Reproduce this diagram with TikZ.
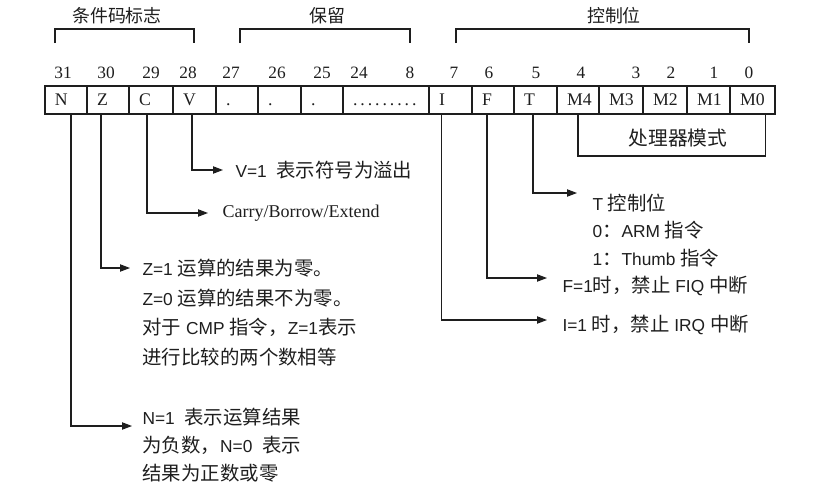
\documentclass[tikz,border=0pt]{standalone}
\usepackage{fontspec}
\setmainfont{Liberation Sans}
\newfontfamily\serifrm{Liberation Serif}
\newfontfamily\cjk[Scale=1.12]{Noto Sans CJK SC}
\newcommand\zh[1]{{\cjk #1}}
\newcommand\regdot{.}
\newcommand\regdots{.\,.\,.\,.\,.\,.\,.\,.\,.}
\newcommand\wgap{\hspace{0.55em}}
\usetikzlibrary{arrows.meta}
\definecolor{ink}{HTML}{1E1E1E}
\begin{document}
\begin{tikzpicture}[x=0.75pt,y=-0.75pt,
  line width=0.8pt, color=ink,
  cell/.style={draw, minimum height=21pt, inner sep=0pt, outer sep=0pt,
    font=\serifrm\fontsize{13.3}{15}\selectfont},
  bitno/.style={font=\serifrm\fontsize{13}{15}\selectfont, anchor=base, inner sep=0pt},
  group/.style={font=\cjk\fontsize{12}{15}\selectfont, inner sep=0pt},
  note/.style={anchor=west, inner sep=0pt, align=left, font=\fontsize{13}{15}\selectfont},
  conn/.style={-{Triangle[length=7.5pt,width=5.5pt]}},
]
\useasboundingbox (0,0) rectangle (818,486);

% register cells, text set flush left inside each field
\foreach \id/\l/\r/\t in {n/45/87/N, z/87/129/Z, c/129/173/C, v/173/216/V,
    r27/216/258/\regdot, r26/258/301/\regdot, r25/301/343/\regdot, r24/343/429/\regdots,
    i/429/472/I, f/472/514/F, t/514/557/T, m4/557/599/M4, m3/599/643/M3,
    m2/643/687/M2, m1/687/730/M1, m0/730/775/M0}{
  \pgfmathsetlengthmacro\w{(\r-\l)*0.75pt}
  \node[cell, minimum width=\w] (c\id) at ({(\l+\r)/2},100)
    {\makebox[\w][l]{\hspace{7.5pt}\vphantom{M}\t}};
}

% bit numbers
\foreach \x/\t in {63/31,106/30,151/29,188/28,231/27,277/26,322/25,359/24,
    410/8,454/7,489/6,536/5,581/4,636/3,671/2,714/1,749/0}{
  \node[bitno] (b\t) at (\x,78) {\t};
}

% field groups
\node[group] (gcond) at (117,16) {条件码标志};
\node[group] (gres)  at (327,16) {保留};
\node[group] (gctl)  at (614,16) {控制位};
\draw (55,43) |- (194,29) -- (194,43);
\draw (240,43) |- (410,29) -- (410,43);
\draw (456,43) |- (749,29) -- (749,43);

% mode bits
\node[group, font=\cjk\fontsize{13.2}{15}\selectfont] (mode) at (678,138) {处理器模式};
\coordinate (mb) at (678,156);
\draw (cm4.south) |- (mb) -| ([xshift=9.4pt]cm0.south);

% flag descriptions
\node[note] (tv) at (235,170) {V=1\wgap\zh{表示符号为溢出}};
\coordinate (av) at (223,170);
\draw[conn] ([xshift=-1.9pt]cv.south) |- (av);

\node[note, font=\serifrm\fontsize{13.5}{15}\selectfont] (tc) at (222,213) {Carry/Borrow/Extend};
\coordinate (ac) at (208,213);
\draw[conn] ([xshift=-3pt]cc.south) |- (ac);

\node[note, font=\fontsize{13}{22.3}\selectfont] (tz) at (142,312.5)
  {Z=1 \zh{运算的结果为零。}\\
   Z=0 \zh{运算的结果不为零。}\\
   \zh{对于} CMP \zh{指令，}Z=1\zh{表示}\\
   \zh{进行比较的两个数相等}};
\coordinate (az) at (130,268);
\draw[conn] ([xshift=-5.25pt]cz.south) |- (az);

\node[note, font=\fontsize{13}{21}\selectfont] (tn) at (142,445)
  {N=1\wgap\zh{表示运算结果}\\
   \zh{为负数，}N=0\wgap\zh{表示}\\
   \zh{结果为正数或零}};
\coordinate (an) at (132,426);
\draw[conn] ([xshift=3.75pt]cn.south) |- (an);

% control bits
\node[note, font=\fontsize{13}{20.6}\selectfont] (tt) at (592,230.5)
  {T \zh{控制位}\\
   0\zh{：}ARM \zh{指令}\\
   1\zh{：}Thumb \zh{指令}};
\coordinate (at) at (577,193);
\draw[conn] ([xshift=-1.9pt]ct.south) |- (at);

\node[note] (tf) at (562,286) {F=1\zh{时，禁止} FIQ \zh{中断}};
\coordinate (af) at (547,278);
\draw[conn] ([xshift=-4.5pt]cf.south) |- (af);

\node[note] (ti) at (562,325) {I=1 \zh{时，禁止} IRQ \zh{中断}};
\coordinate (ai) at (547,320);
\draw[conn] ([xshift=-7.1pt]ci.south) |- (ai);
\end{tikzpicture}
\end{document}
